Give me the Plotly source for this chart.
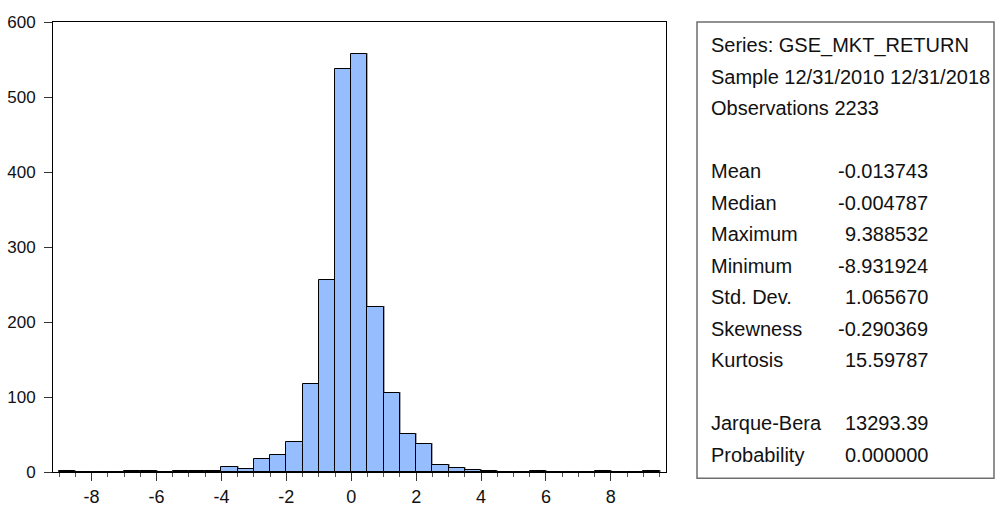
import plotly.graph_objects as go

# Histogram of daily GSE market returns (bin width 0.5)
bin_lower = [-9.0, -8.5, -8.0, -7.5, -7.0, -6.5, -6.0, -5.5, -5.0, -4.5,
             -4.0, -3.5, -3.0, -2.5, -2.0, -1.5, -1.0, -0.5, 0.0, 0.5,
             1.0, 1.5, 2.0, 2.5, 3.0, 3.5, 4.0, 4.5, 5.0, 5.5,
             6.0, 6.5, 7.0, 7.5, 8.0, 8.5, 9.0]
bin_width = 0.5
counts = [1, 0, 0, 0, 1, 2, 0, 1, 1, 1,
          7, 4, 17, 23, 40, 117, 256, 538, 558, 220,
          105, 51, 38, 9, 6, 3, 2, 0, 0, 2,
          0, 0, 0, 1, 0, 0, 1]

y_ticks = [0, 100, 200, 300, 400, 500, 600]
x_ticks = [-8, -6, -4, -2, 0, 2, 4, 6, 8]

header_lines = ["Series: GSE_MKT_RETURN",
                "Sample 12/31/2010 12/31/2018",
                "Observations 2233"]
stat_names = ["Mean", "Median", "Maximum", "Minimum", "Std. Dev.",
              "Skewness", "Kurtosis"]
stat_values = ["-0.013743", "-0.004787", "9.388532", "-8.931924", "1.065670",
               "-0.290369", "15.59787"]
test_names = ["Jarque-Bera", "Probability"]
test_values = ["13293.39", "0.000000"]

FONT = "Liberation Sans, Arial, sans-serif"
W, H = 996, 508
# plot area in pixels
PL, PR, PT, PB = 53, 666, 21.7, 471.7
X_RANGE = [-9.19, 9.70]

centers = [b + bin_width / 2 for b in bin_lower]

# a thin grey drop shadow sits just right of / above each bar
px_per_unit_x = (PR - PL) / (X_RANGE[1] - X_RANGE[0])
shadow_dx = 1.0 / px_per_unit_x
shadow_dy = 1.0 / ((PB - PT) / 600)

fig = go.Figure()
fig.add_trace(go.Bar(
    x=[c + shadow_dx for c in centers],
    y=[c + shadow_dy if c > 0 else 0 for c in counts],
    width=bin_width,
    marker=dict(color="#A8A8A8", line=dict(width=0)),
    hoverinfo="skip", showlegend=False,
))
fig.add_trace(go.Bar(
    x=centers, y=counts, width=bin_width,
    marker=dict(color="#96BEFF", line=dict(color="#000000", width=1)),
    hoverinfo="x+y", showlegend=False,
))


def px_to_paper(px, py):
    return (px - PL) / (PR - PL), (PB - py) / (PB - PT)


annotations = []


def add_text(text, px, py, anchor):
    xp, yp = px_to_paper(px, py)
    annotations.append(dict(
        text=text, x=xp, y=yp, xref="paper", yref="paper",
        xanchor=anchor, yanchor="middle", showarrow=False,
        font=dict(family=FONT, size=20, color="#111111"),
    ))


row0, row_step = 45, 31.5
label_x, value_x = 709, 930
for i, line in enumerate(header_lines):
    add_text(line, label_x, row0 + row_step * i, "left")
for i, (n, v) in enumerate(zip(stat_names, stat_values)):
    add_text(n, label_x, row0 + row_step * (4 + i), "left")
    add_text(v, value_x, row0 + row_step * (4 + i), "right")
for i, (n, v) in enumerate(zip(test_names, test_values)):
    add_text(n, label_x, row0 + row_step * (12 + i), "left")
    add_text(v, value_x, row0 + row_step * (12 + i), "right")

bx0, by0 = px_to_paper(697, 21.7)
bx1, by1 = px_to_paper(994, 478)
shapes = [dict(type="rect", xref="paper", yref="paper",
               x0=bx0, y0=by1, x1=bx1, y1=by0,
               line=dict(color="#6E6E6E", width=1.5), fillcolor="rgba(0,0,0,0)")]

fig.update_layout(
    width=W, height=H,
    margin=dict(l=PL, r=W - PR, t=PT, b=H - PB, pad=0, autoexpand=False),
    paper_bgcolor="white", plot_bgcolor="white",
    bargap=0, barmode="overlay",
    annotations=annotations,
    shapes=shapes,
    showlegend=False,
)
fig.update_xaxes(
    range=X_RANGE, automargin=False,
    tickmode="array", tickvals=x_ticks, ticktext=[str(t) for t in x_ticks],
    ticks="outside", ticklen=8, tickcolor="#333333", tickwidth=1,
    minor=dict(dtick=0.5, tick0=0, ticks="outside", ticklen=4,
               tickcolor="#555555", tickwidth=1, showgrid=False),
    showline=True, linecolor="black", linewidth=1, mirror=True,
    showgrid=False, zeroline=False,
    tickfont=dict(family=FONT, size=18, color="#111111"),
    ticklabelstandoff=0,
)
fig.update_yaxes(
    range=[0, 600], automargin=False,
    tickmode="array", tickvals=y_ticks, ticktext=[str(t) for t in y_ticks],
    ticks="outside", ticklen=8, tickcolor="#333333", tickwidth=1,
    showline=True, linecolor="black", linewidth=1, mirror=True,
    showgrid=False, zeroline=False,
    tickfont=dict(family=FONT, size=17, color="#111111"),
    ticklabelstandoff=5,
)

fig.write_html("out.html")
